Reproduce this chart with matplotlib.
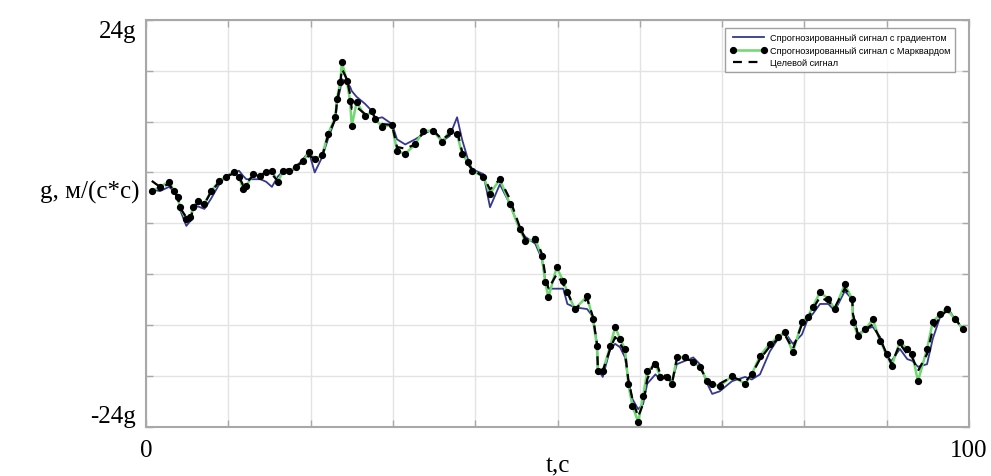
import matplotlib
matplotlib.use("Agg")
import matplotlib.pyplot as plt

# time samples (s)
t = [0.7, 1.7, 2.8, 3.4, 3.9, 4.1, 4.9, 5.4, 5.7, 6.3, 7.1, 7.9, 8.9, 9.7, 10.7,
     11.3, 11.8, 12.2, 13.0, 13.9, 14.6, 15.3, 16.0, 16.7, 17.4, 18.2, 19.1, 19.8,
     20.5, 21.4, 22.1, 23.0, 23.2, 23.6, 23.8, 24.4, 24.8, 25.0, 25.6, 26.6, 27.5,
     27.8, 28.7, 29.9, 30.5, 31.5, 32.7, 33.7, 34.9, 36.0, 36.9, 37.8, 38.4, 39.1,
     39.6, 41.0, 41.8, 43.0, 44.2, 45.4, 46.1, 47.3, 48.1, 48.5, 48.9, 49.9, 50.7,
     51.2, 52.1, 53.6, 54.3, 54.8, 54.9, 55.5, 56.4, 57.0, 57.6, 58.2, 58.6, 59.1,
     59.8, 60.4, 60.9, 61.9, 62.5, 63.3, 63.9, 64.5, 65.5, 66.5, 67.3, 68.2, 68.8,
     69.7, 71.2, 72.8, 73.6, 74.6, 75.8, 76.8, 77.6, 78.6, 79.7, 80.4, 81.0, 81.9,
     82.9, 83.7, 84.9, 85.8, 85.9, 86.5, 87.4, 88.3, 89.2, 90.0, 90.6, 91.6, 92.5,
     93.1, 93.8, 94.9, 95.6, 96.5, 97.3, 98.3, 99.3]

# forecast with gradient method (g)
grad = [4.0, 3.8, 4.3, 3.8, 3.1, 1.7, -0.3, 0.3, 1.7, 2.0, 1.7, 2.9, 4.6, 5.6, 6.0,
        6.2, 5.6, 5.2, 5.2, 5.2, 4.9, 4.3, 5.5, 6.2, 5.9, 6.6, 7.6, 8.4,
        6.0, 7.8, 9.9, 12.3, 14.1, 15.8, 17.0, 16.6, 16.1, 15.6, 14.9, 14.1, 13.2,
        12.3, 12.5, 11.7, 9.9, 9.3, 9.9, 10.5, 11.1, 9.7, 10.3, 12.5, 9.9, 7.6,
        6.4, 5.8, 1.9, 4.6, 2.3, -0.7, -1.6, -2.4, -4.2, -6.6, -7.7, -7.7, -7.7,
        -9.5, -9.9, -10.1, -11.0, -14.2, -17.2, -18.1, -14.8, -14.2, -14.6, -15.8, -18.4, -20.7,
        -21.9, -21.3, -18.9, -17.8, -18.4, -18.1, -18.7, -16.6, -16.2, -15.8, -16.6, -18.9, -20.1,
        -19.8, -18.6, -18.1, -18.4, -17.8, -15.1, -13.6, -12.8, -14.2, -13.1, -11.3, -10.7, -9.5,
        -9.5, -10.3, -8.0, -8.9, -10.7, -13.1, -12.5, -12.2, -13.4, -15.8, -16.2, -14.8, -16.0,
        -16.2, -16.9, -16.6, -13.6, -11.0, -9.8, -11.3, -12.5]

# forecast with Marquardt method (g)
marq = [3.8, 4.3, 4.9, 3.8, 3.1, 1.9, 0.5, 0.7, 1.9, 2.6, 2.3, 3.8, 5.0, 5.5, 6.0,
        5.5, 4.0, 4.4, 5.8, 5.6, 6.0, 6.2, 4.9, 6.2, 6.2, 6.6, 7.3, 8.4,
        7.6, 8.0, 10.5, 12.5, 14.7, 16.6, 19.0, 16.8, 14.4, 11.5, 14.3, 12.6, 13.2,
        12.3, 11.4, 11.6, 8.5, 8.2, 9.3, 10.9, 10.9, 9.6, 10.9, 10.5, 8.2, 7.2,
        6.2, 5.5, 3.5, 5.2, 2.3, -0.7, -2.1, -1.9, -3.9, -6.9, -8.7, -5.2, -6.8,
        -8.1, -10.1, -8.6, -11.3, -14.5, -17.4, -17.4, -14.5, -12.2, -13.6, -14.8, -18.9, -21.5,
        -23.4, -20.4, -17.4, -16.6, -18.1, -18.1, -18.9, -15.8, -15.8, -16.3, -16.9, -18.6, -18.9,
        -19.2, -18.0, -18.9, -17.8, -15.6, -14.2, -13.4, -12.8, -15.2, -11.6, -11.0, -9.9, -8.1,
        -8.9, -10.1, -7.2, -8.9, -11.6, -13.3, -12.5, -11.3, -13.9, -15.4, -16.8, -14.0, -14.8,
        -15.4, -18.6, -14.8, -11.6, -10.7, -10.1, -11.3, -12.5]

# target signal (g)
target = [5.0, 4.3, 4.6, 3.8, 2.9, 1.9, 0.7, 0.3, 1.7, 2.4, 2.3, 3.7, 4.9, 5.5, 5.9,
          5.5, 4.5, 4.8, 5.6, 5.5, 6.2, 5.8, 5.0, 6.2, 6.4, 6.8, 7.2, 8.0,
          7.6, 7.9, 10.3, 12.3, 14.3, 16.4, 18.2, 17.0, 15.2, 13.5, 13.7, 12.9, 13.1,
          12.5, 11.7, 11.6, 9.0, 8.8, 9.3, 10.8, 10.9, 9.9, 10.5, 10.9, 8.5, 7.0,
          6.4, 5.5, 4.0, 5.2, 2.9, -0.4, -1.9, -1.6, -3.6, -6.0, -7.7, -6.0, -7.2,
          -8.1, -10.1, -8.9, -11.0, -14.2, -16.9, -17.4, -14.8, -13.4, -14.2, -15.1, -18.4, -20.7,
          -22.8, -21.3, -18.4, -16.0, -17.8, -18.0, -18.9, -16.0, -16.0, -16.2, -16.9, -18.6, -19.2,
          -18.9, -18.1, -18.7, -17.8, -16.0, -14.5, -13.6, -13.1, -14.8, -11.9, -11.3, -10.1, -8.7,
          -9.2, -9.9, -7.7, -8.7, -10.7, -13.1, -12.5, -11.9, -13.6, -15.4, -16.6, -14.2, -15.4,
          -15.8, -17.4, -15.4, -12.5, -11.0, -10.3, -11.0, -12.8]

x_ticks = [0, 10, 20, 30, 40, 50, 60, 70, 80, 90, 100]
x_ticklabels = ["0", "", "", "", "", "", "", "", "", "", "100"]
y_ticks = [-24, -18, -12, -6, 0, 6, 12, 18, 24]
y_ticklabels = ["-24g", "", "", "", "", "", "", "", "24g"]

labels = ["Спрогнозированный сигнал с градиентом",
          "Спрогнозированный сигнал с Марквардом",
          "Целевой сигнал"]

fig = plt.figure(figsize=(9.91, 4.77), dpi=100)
ax = fig.add_axes([146 / 991, 1 - 428 / 477, 823 / 991, 407.3 / 477])

ax.plot(t, grad, color="#34388f", lw=1.3, label=labels[0], zorder=3)
ax.plot(t, marq, color="#6fd86f", lw=1.8, marker="o", ms=4.2,
        mfc="black", mec="black", label=labels[1], zorder=4)
ax.plot(t, target, color="black", lw=1.6, ls=(0, (4, 3)), label=labels[2], zorder=5)

ax.set_xlim(0, 100)
ax.set_ylim(-24, 24)
ax.set_xticks(x_ticks)
ax.set_xticklabels(x_ticklabels)
ax.set_yticks(y_ticks)
ax.set_yticklabels(y_ticklabels)
ax.grid(True, color="#e3e3e3", lw=1.0, zorder=0)
ax.set_axisbelow(True)

for s in ax.spines.values():
    s.set_color("#a8a8a8")
    s.set_linewidth(1.5)

serif = ["Liberation Serif", "DejaVu Serif"]
ax.tick_params(direction="in", length=5, width=1, color="#a8a8a8",
               top=True, right=True)
ax.tick_params(axis="x", pad=9)
ax.tick_params(axis="y", pad=7)
for lab in ax.get_xticklabels() + ax.get_yticklabels():
    lab.set_family(serif)
    lab.set_fontsize(18)
ylabs = ax.get_yticklabels()
ylabs[-1].set_verticalalignment("top")
ylabs[0].set_verticalalignment("bottom")

ax.set_xlabel("t,c", family=serif, fontsize=18, va="top")
ax.xaxis.set_label_coords(0.5, -0.068)
ax.set_ylabel("g, м/(с*с)", family=serif, fontsize=18, rotation=0,
              ha="right", va="center")
ax.yaxis.set_label_coords(-0.008, 0.579)

leg = ax.legend(loc="upper right", bbox_to_anchor=((955 - 146) / 823, (428 - 29) / 407.3),
                prop={"family": ["Liberation Sans", "DejaVu Sans"], "size": 6.6},
                frameon=True, fancybox=False, edgecolor="#8a8a8a", numpoints=2,
                handlelength=4.0, handletextpad=0.3, borderpad=0.55,
                labelspacing=0.4, borderaxespad=0)
leg.get_frame().set_linewidth(1.0)

fig.savefig("out.png", dpi=100, facecolor="white")
